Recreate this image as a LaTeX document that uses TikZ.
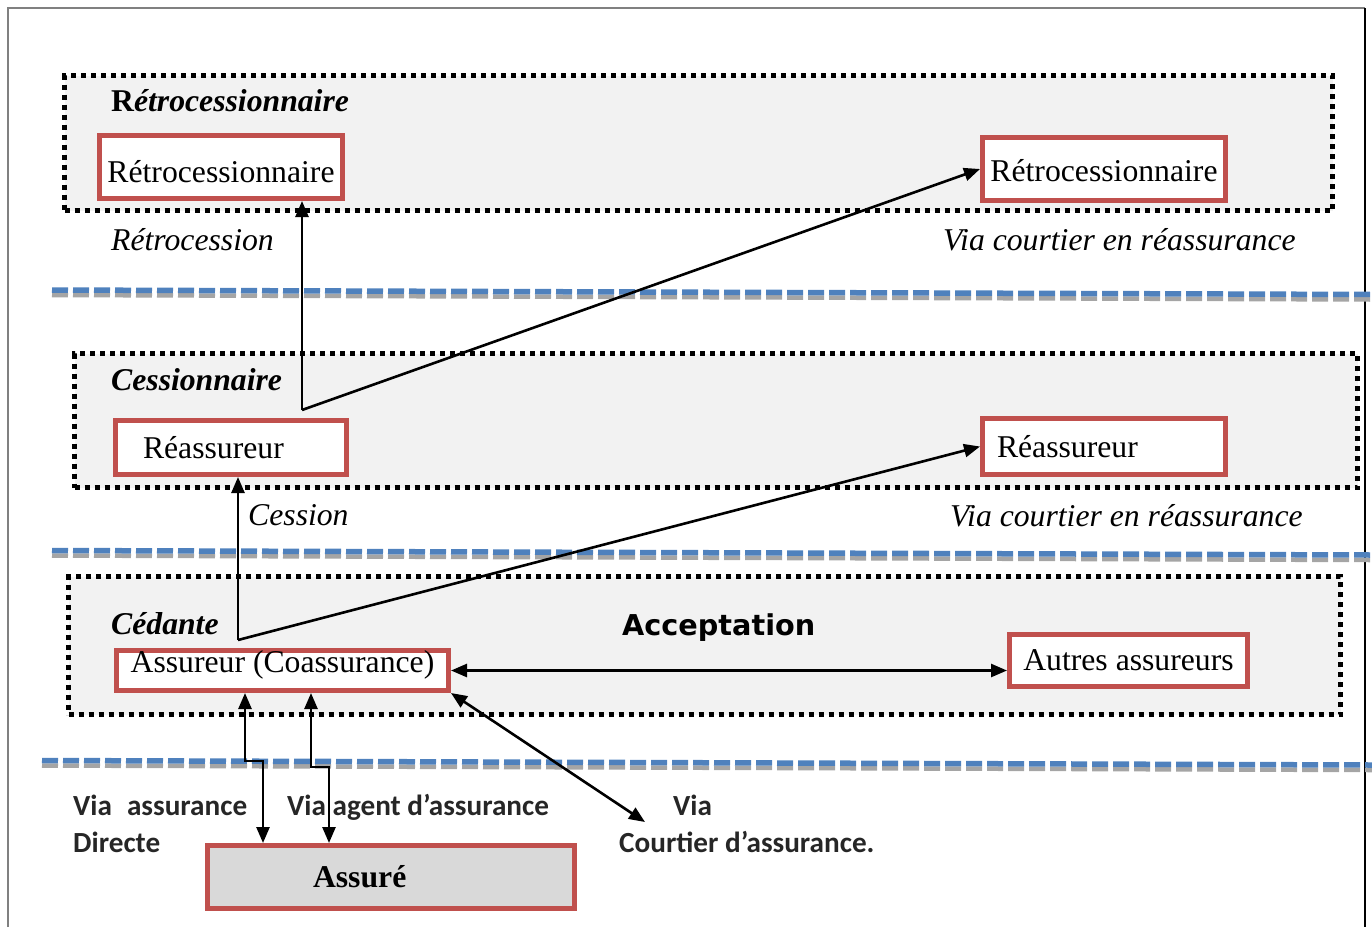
\documentclass[tikz,border=0pt]{standalone}
\usepackage{fontspec}
\setmainfont{Liberation Serif}
\newfontfamily\carlito{Carlito}
\newfontfamily\dejavu{DejaVu Sans}
\usetikzlibrary{arrows.meta}
\definecolor{boxred}{HTML}{C0504D}
\definecolor{layergray}{HTML}{F2F2F2}
\definecolor{sepblue}{HTML}{4F81BD}
\definecolor{sepgray}{HTML}{A5A5A5}
\definecolor{assgray}{HTML}{D9D9D9}
\definecolor{labelgray}{HTML}{262626}
\newcommand\serifbig{\fontsize{31.7}{38}\selectfont}
\newcommand\calbig{\fontsize{29.2}{35}\selectfont}
\tikzset{
  layer/.style={draw=black, fill=layergray, line width=5pt, dash pattern=on 5pt off 5pt, inner sep=0pt},
  redbox/.style={draw=boxred, line width=5pt, fill=white, inner sep=0pt, font=\serifbig},
  head/.style={anchor=base west, inner sep=0pt, font=\serifbig\bfseries\itshape},
  ital/.style={anchor=base west, inner sep=0pt, font=\serifbig\itshape},
  lab/.style={anchor=base west, inner sep=0pt, font=\carlito\bfseries\calbig, text=labelgray},
  sepshadow/.style={sepgray, line width=4.5pt, dash pattern=on 16pt off 5pt},
  sepline/.style={sepblue, line width=5.5pt, dash pattern=on 16pt off 5pt},
  arr/.style={line width=2.6pt, draw=black},
  >={Triangle[length=16pt,width=13pt]}
}
\begin{document}
\begin{tikzpicture}[x=1pt,y=-1pt]
\path[use as bounding box] (0,0) rectangle (1372,927);
% outer frame
\draw[line width=1.5pt, draw=gray] (8,927) -- (8,8) -- (1365,8);
\draw[line width=1.5pt, draw=black] (1365,8) -- (1365,927);

% layers
\node[layer, minimum width=1268pt, minimum height=135pt] (layR) at (698.5,143) {};
\node[layer, minimum width=1283pt, minimum height=134pt] (layC) at (716,420.5) {};
\node[layer, minimum width=1272pt, minimum height=138pt] (layA) at (704.5,645.5) {};

% separators
\draw[sepshadow] (52,295) -- (1372,299.5);
\draw[sepline] (52,290) -- (1372,294.5);
\draw[sepshadow] (52,555.5) -- (1372,560);
\draw[sepline] (52,550.5) -- (1372,555);
\draw[sepshadow] (42,765.5) -- (1372,770);
\draw[sepline] (42,760.5) -- (1372,765);

% headings and labels
\node[head] (hR) at (111,111) {\upshape R\itshape étrocessionnaire};
\node[head] (hC) at (111,390) {Cessionnaire};
\node[head] (hA) at (111,634) {Cédante};
\node[anchor=base west, inner sep=0pt, font=\dejavu\bfseries\fontsize{28.7}{34}\selectfont] (acc) at (622,635) {Acceptation};
\node[ital] (lRetro) at (111,250) {Rétrocession};
\node[ital] (lVia1) at (943,250) {Via courtier en réassurance};
\node[ital] (lCess) at (248,525) {Cession};
\node[ital] (lVia2) at (950,526) {Via courtier en réassurance};

\node[lab] (lDir1) at (73,815) {Via\hspace{15pt}assurance};
\node[lab] (lDir2) at (73,852) {Directe};
\node[lab] (lAgent) at (287,815) {Via agent d’assurance};
\node[lab] (lCour1) at (673,815) {Via};
\node[lab] (lCour2) at (619,852) {Courtier d’assurance.};

% boxes
\node[redbox, minimum width=243pt, minimum height=63pt, text height=30pt, text depth=0pt] (rc1) at (221,167) {Rétrocessionnaire};
\node[redbox, minimum width=243pt, minimum height=63pt, text height=25.5pt, text depth=0pt] (rc2) at (1104,169) {Rétrocessionnaire};
\node[redbox, minimum height=54pt, text width=176pt, inner xsep=27.5pt, align=left] (re1) at (231,447.5) {Réassureur};
\node[redbox, minimum height=56pt, text width=214pt, inner xsep=14.5pt, align=left] (re2) at (1104,446.5) {Réassureur};
\node[redbox, minimum width=332pt, minimum height=40pt, text height=22pt, text depth=18pt] (as) at (282.5,670.5) {Assureur (Coassurance)};
\node[redbox, minimum width=238pt, minimum height=52pt] (au) at (1128.5,660.5) {Autres assureurs};
\node[redbox, fill=assgray, font=\serifbig\bfseries, minimum height=63pt, text width=156pt, inner xsep=105.5pt, align=left] (su) at (391,877) {Assuré};

% connectors
\coordinate (c1) at (238,640);
\coordinate (c2) at (302,410);
\coordinate (vc) at (645,822);
\coordinate (d1) at (245,761);
\coordinate (d2) at (263,761);
\coordinate (g1) at (311,767);
\coordinate (g2) at (329,767);

\draw[arr, ->] (c1) -- (c1 |- re1.south);
\draw[arr, ->] (c1) -- (re2.west);
\draw[arr, ->] (c2) -- (c2 |- rc1.south);
\draw[arr, ->] (c2) -- (rc2.west);
\draw[arr, <->] (as.east) -- (au.west |- as.east);
\draw[arr, <->] (as.south east) -- (vc);
\draw[arr, <->] (d1 |- as.south) -- (d1) -- (d2) -- (d2 |- su.north);
\draw[arr, <->] (g1 |- as.south) -- (g1) -- (g2) -- (g2 |- su.north);
\end{tikzpicture}
\end{document}
